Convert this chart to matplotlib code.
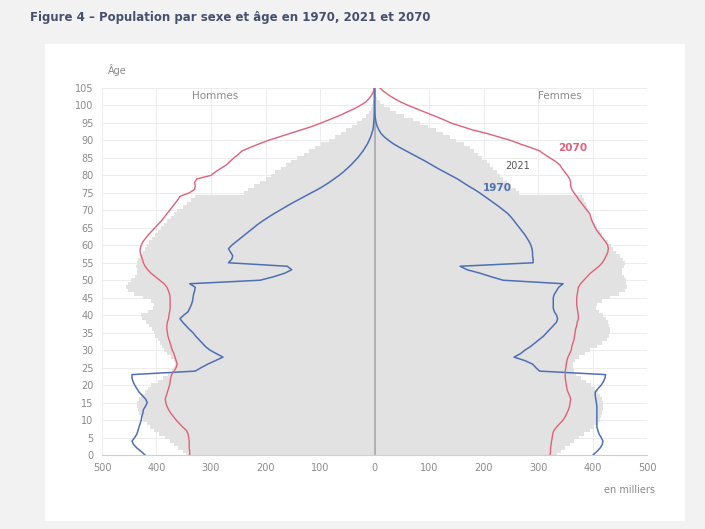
import matplotlib
matplotlib.use("Agg")
import matplotlib.pyplot as plt
import numpy as np
from matplotlib.patches import Rectangle

# ages 0..105, population in thousands
ages = np.arange(0, 106)

men_2021 = [345, 352, 360, 368, 375, 385, 395, 405, 412, 418,
            424, 428, 432, 434, 436, 436, 432, 428, 422, 416,
            410, 398, 388, 378, 372, 368, 366, 368, 374, 380,
            386, 390, 394, 398, 402, 404, 408, 414, 420, 426,
            428, 415, 406, 404, 410, 425, 442, 452, 456, 452,
            446, 440, 436, 436, 438, 436, 434, 430, 425, 421,
            418, 414, 408, 402, 397, 392, 386, 380, 374, 368,
            362, 352, 344, 336, 329, 240, 232, 222, 210, 200,
            190, 182, 172, 163, 154, 142, 130, 120, 110, 98,
            84, 72, 62, 52, 42, 32, 23, 16, 11, 7,
            4, 2, 1, 0.5, 0.2, 0.1]
women_2021 = [335, 342, 350, 358, 366, 375, 385, 395, 403, 410,
              414, 416, 418, 419, 420, 420, 418, 414, 410, 404,
              398, 388, 378, 370, 366, 364, 364, 368, 376, 386,
              396, 408, 418, 426, 430, 432, 432, 430, 428, 424,
              420, 412, 406, 408, 418, 432, 448, 460, 464, 462,
              462, 458, 455, 455, 458, 460, 456, 450, 444, 438,
              434, 428, 422, 417, 413, 409, 405, 401, 397, 394,
              392, 390, 388, 384, 380, 266, 260, 250, 244, 236,
              230, 224, 218, 212, 206, 198, 190, 182, 175, 164,
              150, 138, 126, 112, 98, 84, 70, 54, 40, 28,
              18, 10, 5, 2, 1, 0.5]

men_2070 = [339, 339, 340, 340, 340, 341, 342, 345, 352, 358,
            364, 369, 374, 378, 381, 383, 384, 382, 380, 378,
            376, 375, 374, 372, 368, 364, 362, 364, 366, 368,
            371, 373, 375, 377, 379, 380, 381, 381, 380, 378,
            377, 376, 375, 375, 375, 375, 376, 378, 381, 386,
            394, 402, 410, 416, 421, 424, 426, 428, 430, 430,
            428, 425, 420, 415, 409, 403, 397, 391, 386, 381,
            376, 371, 366, 361, 357, 340, 330, 329, 330, 326,
            300, 292, 282, 272, 265, 258, 250, 243, 228, 212,
            195, 175, 155, 135, 115, 98, 82, 66, 52, 38,
            26, 16, 10, 5, 2, 1]
women_2070 = [322, 323, 323, 324, 325, 326, 327, 329, 334, 340,
              346, 350, 353, 356, 358, 359, 360, 358, 355, 353,
              352, 351, 350, 350, 350, 351, 352, 353, 355, 358,
              361, 362, 364, 366, 367, 368, 369, 371, 372, 374,
              374, 373, 372, 371, 371, 371, 372, 373, 374, 378,
              384, 390, 396, 404, 412, 418, 422, 425, 428, 429,
              428, 424, 419, 414, 409, 405, 402, 399, 397, 395,
              390, 385, 380, 375, 371, 366, 362, 360, 360, 358,
              354, 349, 344, 340, 332, 322, 312, 303, 286, 267,
              250, 228, 206, 180, 160, 140, 126, 110, 94, 78,
              62, 48, 36, 26, 17, 10]

men_1970 = [421, 428, 436, 442, 445, 440, 436, 434, 432, 430,
            428, 427, 425, 424, 420, 417, 420, 426, 432, 436,
            440, 443, 445, 445, 329, 318, 306, 292, 278, 290,
            302, 310, 316, 322, 328, 333, 340, 346, 352, 357,
            350, 342, 339, 336, 334, 333, 332, 330, 329, 339,
            210, 185, 165, 152, 160, 268, 262, 260, 264, 268,
            262, 254, 246, 238, 230, 222, 214, 205, 195, 185,
            174, 163, 152, 140, 128, 116, 104, 93, 83, 74,
            65, 57, 50, 43, 37, 31, 26, 21, 17, 13,
            10, 7, 5, 3, 2, 1.5, 1, 0.6, 0.4, 0.2,
            0.1, 0, 0, 0, 0, 0]
women_1970 = [401, 408, 414, 418, 419, 416, 412, 410, 408, 408,
              408, 408, 408, 408, 408, 407, 406, 405, 405, 410,
              416, 420, 423, 424, 303, 296, 290, 276, 256, 268,
              276, 286, 294, 302, 310, 316, 322, 328, 334, 336,
              334, 330, 328, 328, 328, 328, 330, 334, 338, 346,
              236, 214, 194, 170, 157, 291, 291, 290, 290, 289,
              287, 284, 280, 276, 271, 266, 261, 256, 251, 245,
              237, 229, 220, 211, 202, 193, 183, 172, 162, 152,
              140, 128, 116, 105, 94, 82, 70, 58, 46, 35,
              26, 18, 12, 8, 5, 3, 2, 1, 0.5, 0.3,
              0.1, 0, 0, 0, 0, 0]

x_ticks = [-500, -400, -300, -200, -100, 0, 100, 200, 300, 400, 500]
y_ticks = list(range(0, 106, 5))

RED = '#e0607a'
BLUE = '#4f6fb3'
FILL = '#e2e2e2'
TXT = '#8a8a8a'

fig = plt.figure(figsize=(7.05, 5.29), dpi=100)
fig.patch.set_facecolor('#f2f2f2')
fig.patches.append(Rectangle((45 / 705, 1 - 521 / 529), 640 / 705, 477 / 529,
                             transform=fig.transFigure, facecolor='white',
                             edgecolor='none', zorder=-5))

fig.text(30 / 705, 1 - 17 / 529, 'Figure 4 – Population par sexe et âge en 1970, 2021 et 2070',
         fontsize=8.5, fontweight='bold', color='#46506e', va='center', ha='left')

ax = fig.add_axes([102 / 705, 1 - 455 / 529, 545 / 705, 367 / 529])
ax.set_zorder(2)
ax.set_facecolor('white')

m21 = -np.array(men_2021)
w21 = np.array(women_2021)
ax.fill_betweenx(ages, m21, w21, step='mid', color=FILL, lw=0, zorder=1)

ax.plot(-np.array(men_1970), ages, color=BLUE, lw=1.1, zorder=3)
ax.plot(np.array(women_1970), ages, color=BLUE, lw=1.1, zorder=3)
ax.plot(-np.array(men_2070), ages, color=RED, lw=1.0, zorder=3)
ax.plot(np.array(women_2070), ages, color=RED, lw=1.0, zorder=3)
ax.axvline(0, color='#a8a8a8', lw=1.2, zorder=2)

ax.set_xlim(-500, 500)
ax.set_ylim(0, 105)
ax.set_xticks(x_ticks)
ax.set_xticklabels([str(abs(v)) for v in x_ticks])
ax.set_yticks(y_ticks)
ax.set_yticklabels([str(v) for v in y_ticks])
ax.tick_params(axis='both', length=0, labelsize=7, colors=TXT, pad=6)
ax.grid(True, color='#ececec', lw=0.7, zorder=0)
ax.set_axisbelow(True)
for s in ['top', 'right', 'left']:
    ax.spines[s].set_visible(False)
ax.spines['bottom'].set_color('#cfcfcf')

ax.text(-293, 102.6, 'Hommes', ha='center', va='center', fontsize=7.5, color=TXT)
ax.text(340, 102.6, 'Femmes', ha='center', va='center', fontsize=7.5, color=TXT)
ax.text(364, 87.8, '2070', ha='center', va='center', fontsize=7.5, color=RED, fontweight='bold')
ax.text(263, 82.7, '2021', ha='center', va='center', fontsize=7, color='#555555')
ax.text(225, 76.4, '1970', ha='center', va='center', fontsize=7.5, color=BLUE, fontweight='bold')

fig.text(108 / 705, 1 - 70 / 529, 'Âge', fontsize=7, color=TXT, ha='left', va='center')
fig.text(655 / 705, 1 - 490 / 529, 'en milliers', fontsize=7, color=TXT, ha='right', va='center')

fig.savefig('out.png', dpi=100, facecolor=fig.get_facecolor())
